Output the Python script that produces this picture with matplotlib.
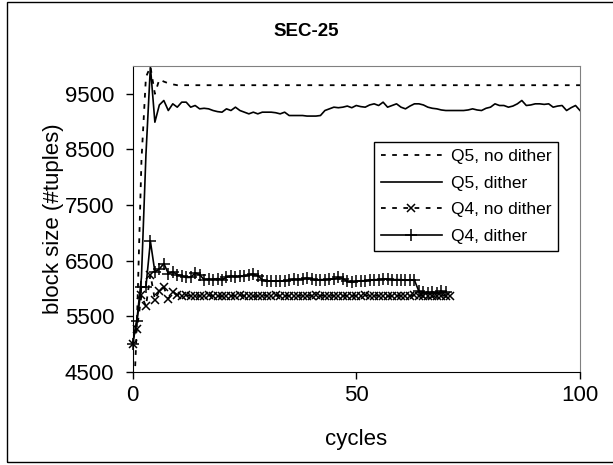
import matplotlib
matplotlib.use("Agg")
import matplotlib.pyplot as plt
from matplotlib.patches import Rectangle

plt.rcParams["font.family"] = ["Liberation Sans", "DejaVu Sans"]

# Q5 runs, cycles 0..100
q5_nodither = [3400, 5400, 8300, 9800, 9990, 9500, 9760, 9720, 9690, 9670] + [9655] * 91
q5_dither = [5000, 5450, 6200, 8400, 9990, 8990, 9300, 9380, 9200, 9320,
             9260, 9350, 9350, 9260, 9290, 9230, 9240, 9230, 9200, 9180,
             9170, 9230, 9200, 9260, 9200, 9170, 9140, 9170, 9140, 9170,
             9170, 9170, 9160, 9140, 9170, 9110, 9110, 9110, 9110, 9100,
             9100, 9100, 9110, 9200, 9230, 9260, 9250, 9260, 9280, 9250,
             9290, 9270, 9260, 9300, 9320, 9290, 9350, 9260, 9290, 9320,
             9260, 9230, 9280, 9320, 9320, 9300, 9260, 9240, 9230, 9210,
             9200, 9200, 9200, 9200, 9200, 9210, 9230, 9210, 9200, 9240,
             9260, 9320, 9290, 9290, 9260, 9280, 9320, 9380, 9290, 9300,
             9320, 9320, 9310, 9320, 9260, 9280, 9290, 9200, 9250, 9290,
             9200]

# Q4 runs, cycles 0..71 / 0..70
q4_nodither = [5000, 5280, 5880, 5680, 6250, 5800, 5960, 6020, 5820, 5930,
               5890, 5870, 5880, 5870, 5860, 5870, 5870, 5880, 5870, 5870,
               5860, 5870, 5870, 5870, 5880, 5870, 5870, 5860, 5870, 5870,
               5870, 5870, 5880, 5870, 5870, 5870, 5860, 5870, 5870, 5870,
               5870, 5880, 5870, 5870, 5870, 5870, 5860, 5870, 5870, 5870,
               5870, 5870, 5880, 5870, 5870, 5870, 5870, 5860, 5870, 5870,
               5870, 5870, 5870, 5880, 5870, 5870, 5870, 5860, 5870, 5870,
               5870, 5870]
q4_dither = [5000, 5420, 6030, 6030, 6850, 6300, 6350, 6450, 6270, 6300,
             6250, 6230, 6200, 6200, 6280, 6250, 6160, 6170, 6160, 6180,
             6160, 6200, 6230, 6210, 6220, 6220, 6250, 6260, 6230, 6160,
             6130, 6140, 6130, 6140, 6130, 6150, 6170, 6160, 6170, 6190,
             6170, 6150, 6160, 6160, 6170, 6170, 6200, 6180, 6130, 6110,
             6130, 6140, 6140, 6150, 6160, 6160, 6170, 6170, 6160, 6160,
             6160, 6150, 6150, 6150, 5950, 5930, 5920, 5940, 5920, 5950,
             5930]

labels = ["Q5, no dither", "Q5, dither", "Q4, no dither", "Q4, dither"]
y_ticks = [4500, 5500, 6500, 7500, 8500, 9500]
x_ticks = [0, 50, 100]

fig = plt.figure(figsize=(6.13, 4.65), dpi=100)
ax = fig.add_axes([132.5 / 613, 93 / 465, 447.5 / 613, 306 / 465])

dots = (0, (2.6, 3.6))
ax.plot(range(len(q5_nodither)), q5_nodither, color="black", lw=1.3, ls=dots, label=labels[0])
ax.plot(range(len(q5_dither)), q5_dither, color="black", lw=1.2, label=labels[1])
ax.plot(range(len(q4_nodither)), q4_nodither, color="black", lw=1.3, ls=dots,
        marker="x", ms=5.5, mew=1.1, label=labels[2], clip_on=False)
ax.plot(range(len(q4_dither)), q4_dither, color="black", lw=1.2,
        marker="+", ms=8.5, mew=1.1, label=labels[3], clip_on=False)

ax.set_xlim(0, 100)
ax.set_ylim(4500, 10000)
ax.set_xticks(x_ticks)
ax.set_yticks(y_ticks)
ax.tick_params(direction="out", length=5, width=1, labelsize=16, pad=8)
ax.tick_params(axis="x", pad=4)
for side in ["top", "right"]:
    ax.spines[side].set_color("#808080")
for side in ["left", "bottom"]:
    ax.spines[side].set_color("black")

ax.set_xlabel("cycles", fontsize=16)
ax.set_ylabel("block size (#tuples)", fontsize=16)
ax.xaxis.set_label_coords(0.5, -0.222)
ax.xaxis.label.set_va("center")
ax.yaxis.set_label_coords(-0.176, 0.5)
ax.yaxis.label.set_va("center")

leg = ax.legend(loc="upper right", bbox_to_anchor=(0.951, 0.752), borderaxespad=0,
                fontsize=12.5, handlelength=3.5, handletextpad=0.5, borderpad=0.4,
                labelspacing=0.66, numpoints=1, fancybox=False, framealpha=1)
leg.get_frame().set_edgecolor("black")
leg.get_frame().set_linewidth(1)

fig.text(0.5, 1 - 32 / 465, "SEC-25", ha="center", va="center", fontsize=13.5, weight="bold")

fig.patches.append(Rectangle((7 / 613, 3 / 465), 1.1, 460 / 465, transform=fig.transFigure,
                             fill=False, edgecolor="black", lw=1))

fig.savefig("out.png", dpi=100)
